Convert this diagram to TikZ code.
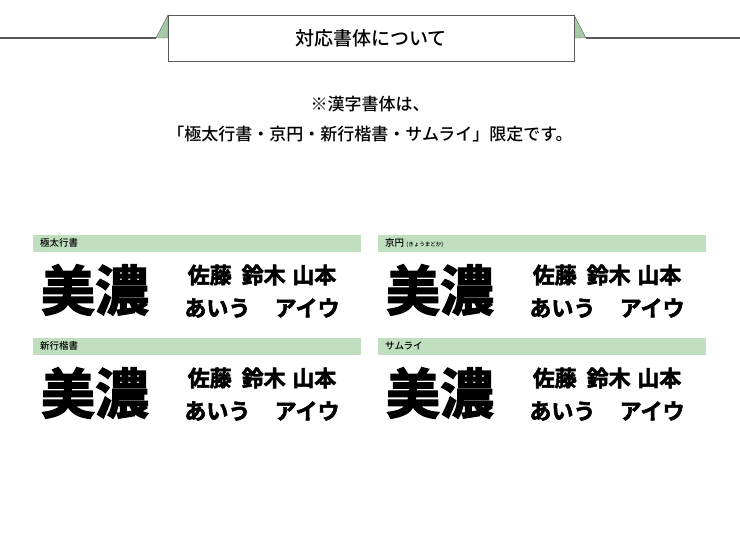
\documentclass[tikz,border=0pt]{standalone}
\usepackage{fontspec}
\setmainfont{Noto Sans CJK JP}[BoldFont={Noto Sans CJK JP Bold}]
\newfontfamily\jpb[FakeBold=2.5]{Noto Sans CJK JP Bold}
\newfontfamily\jpm{Noto Sans CJK JP Medium}
\begin{document}
\begin{tikzpicture}[x=1pt,y=-1pt,
  bar/.style={fill=green!50!black!25,draw=none,minimum height=17pt,anchor=north west,inner sep=0pt},
  lbl/.style={anchor=west,font=\jpm\fontsize{9.5}{9.5}\selectfont,inner sep=0pt},
  big/.style={font=\jpb\fontsize{54}{54}\selectfont,inner sep=0pt,anchor=center},
  sm/.style={font=\jpb\fontsize{22}{22}\selectfont,inner sep=0pt,anchor=center}]
\useasboundingbox (0,0) rectangle (740,540);
\fill[white] (0,0) rectangle (740,540);
\draw[gray!70!black,line width=1.2pt] (0,38) -- (156,38);
\draw[gray!70!black,line width=1.2pt] (586,38) -- (740,38);
\filldraw[fill=green!40!black!35,draw=gray!70!black] (156,38) -- (168,15) -- (168,38) -- cycle;
\filldraw[fill=green!40!black!35,draw=gray!70!black] (586,38) -- (574,15) -- (574,38) -- cycle;
\node[draw=gray!70!black,line width=0.9pt,fill=white,minimum width=406pt,minimum height=46pt,inner sep=0pt,font=\jpm\fontsize{19}{19}\selectfont] (title) at (371,38) {対応書体について};
\node[font=\jpm\fontsize{17}{17}\selectfont] (n1) at (370,104) {※漢字書体は、};
\node[font=\jpm\fontsize{17}{17}\selectfont] (n2) at (370,134) {「極太行書・京円・新行楷書・サムライ」限定です。};
\foreach \x/\y/\t/\n in {33/235/極太行書/a,378/235/{京円 {\fontsize{5.5}{5.5}\selectfont (きょうまどか)}}/b,33/338/新行楷書/c,378/338/サムライ/d}{
  \node[bar,minimum width=328pt] (bar\n) at (\x,\y) {};
  \node[lbl] (l\n) at (\x+7,\y+8) {\t};
  \node[big] (m\n) at (\x+62,\y+55) {美濃};
  \node[sm] (s\n) at (\x+229,\y+40) {佐藤\hspace{0.45em}鈴木\hspace{0.3em}山本};
  \node[sm] (t\n) at (\x+229,\y+73) {あいう\hspace{1.1em}アイウ};
}
\end{tikzpicture}
\end{document}
